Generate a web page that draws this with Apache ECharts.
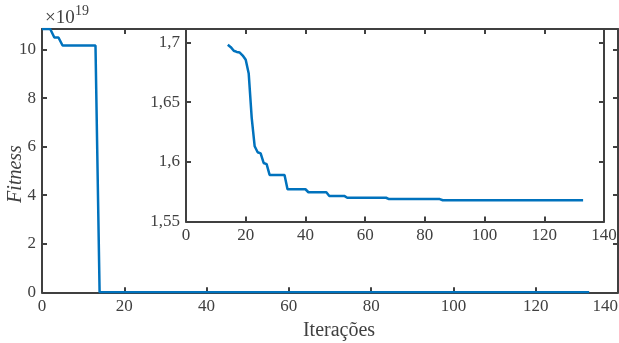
<!DOCTYPE html>
<html>
<head>
<meta charset="utf-8">
<script src="https://cdn.jsdelivr.net/npm/echarts@6/dist/echarts.min.js"></script>
<style>
    html, body { margin: 0; padding: 0; background: #fff; }
    #chart { width: 619px; height: 343px; }
</style>
</head>
<body>
<div id="chart"></div>
<script>
// iterações e fitness
const iterations = [0, 2, 3, 4, 5, 13, 14, 15, 16, 17, 18, 19, 20, 21, 22, 23, 24, 25, 26, 27, 28,
    33, 34, 40, 41, 47, 48, 53, 54, 67, 68, 85, 86, 133];
const fitness = [10.85e19, 10.85e19, 10.5e19, 10.5e19, 10.17e19, 10.17e19,
    1.698, 1.696, 1.693, 1.692, 1.6915, 1.689, 1.6855, 1.674, 1.637, 1.613, 1.608, 1.607, 1.599, 1.598, 1.589,
    1.589, 1.577, 1.577, 1.5745, 1.5745, 1.5714, 1.5714, 1.5699, 1.5699, 1.5688, 1.5688, 1.5678, 1.5678];

// limites dos eixos
const exponent = 19;
const xLimits = [0, 140];
const xStep = 20;
const mainYLimits = [0, 10.85];
const mainYStep = 2;
const insetYLimits = [1.55, 1.7112];
const insetYStep = 0.05;

const scale = Math.pow(10, exponent);
const mainData = iterations.map((x, i) => [x, fitness[i] / scale]);
const insetData = iterations.map((x, i) => [x, fitness[i]]).filter(p => p[1] < 1e6);

const axisColor = '#404040';
const font = 'Liberation Serif';
const blue = '#0072BD';

// eixo com caixa (estilo matlab)
const makeAxis = (grid, pos, limits, step, showLabel, isY) => ({
    type: 'value',
    gridIndex: grid,
    position: pos,
    min: limits[0],
    max: limits[1],
    interval: step,
    splitLine: { show: false },
    axisLine: { onZero: false, lineStyle: { color: axisColor, width: 2 } },
    axisTick: { inside: true, length: 5, lineStyle: { color: axisColor, width: 2 } },
    axisLabel: {
        show: showLabel,
        color: axisColor,
        fontFamily: font,
        fontSize: 17,
        margin: 6,
        showMaxLabel: !isY,
        alignMaxLabel: isY ? null : (grid === 0 ? 'right' : 'center'),
        formatter: (grid === 1 && isY) ? (v => String(+v.toFixed(2)).replace('.', ',')) : null,
    },
    z: grid === 1 ? 4 : 0,
});

const chart = echarts.init(document.getElementById('chart'));
chart.setOption({
    animation: false,
    grid: [
        { left: 42, top: 29, width: 576, height: 263.3, outerBoundsMode: 'none' },
        { left: 186, top: 29, width: 418, height: 192.5, outerBoundsMode: 'none', show: true, backgroundColor: '#fff', borderWidth: 0, z: 3 },
    ],
    xAxis: [
        makeAxis(0, 'bottom', xLimits, xStep, true, false),
        makeAxis(0, 'top', xLimits, xStep, false, false),
        makeAxis(1, 'bottom', xLimits, xStep, true, false),
        makeAxis(1, 'top', xLimits, xStep, false, false),
    ],
    yAxis: [
        makeAxis(0, 'left', mainYLimits, mainYStep, true, true),
        makeAxis(0, 'right', mainYLimits, mainYStep, false, true),
        makeAxis(1, 'left', insetYLimits, insetYStep, true, true),
        makeAxis(1, 'right', insetYLimits, insetYStep, false, true),
    ],
    series: [
        {
            type: 'line',
            xAxisIndex: 0,
            yAxisIndex: 0,
            data: mainData,
            symbol: 'none',
            lineStyle: { color: blue, width: 2.5 },
            z: 2,
        },
        {
            type: 'line',
            xAxisIndex: 2,
            yAxisIndex: 2,
            data: insetData,
            symbol: 'none',
            lineStyle: { color: blue, width: 2.5 },
            z: 5,
        },
    ],
    graphic: [
        {
            type: 'text', left: 45, top: 9,
            style: { text: '×10', fill: axisColor, font: '19px "Liberation Serif"' },
        },
        {
            type: 'text', left: 75, top: 4,
            style: { text: String(exponent), fill: axisColor, font: '14px "Liberation Serif"' },
        },
        {
            type: 'text', x: 16, y: 174, rotation: Math.PI / 2,
            style: { text: 'Fitness', fill: axisColor, font: 'italic 20px "Liberation Serif"', align: 'center', verticalAlign: 'middle' },
        },
        {
            type: 'text', x: 339, y: 331,
            style: { text: 'Iterações', fill: axisColor, font: '20px "Liberation Serif"', align: 'center', verticalAlign: 'middle' },
        },
    ],
});
</script>
</body>
</html>
